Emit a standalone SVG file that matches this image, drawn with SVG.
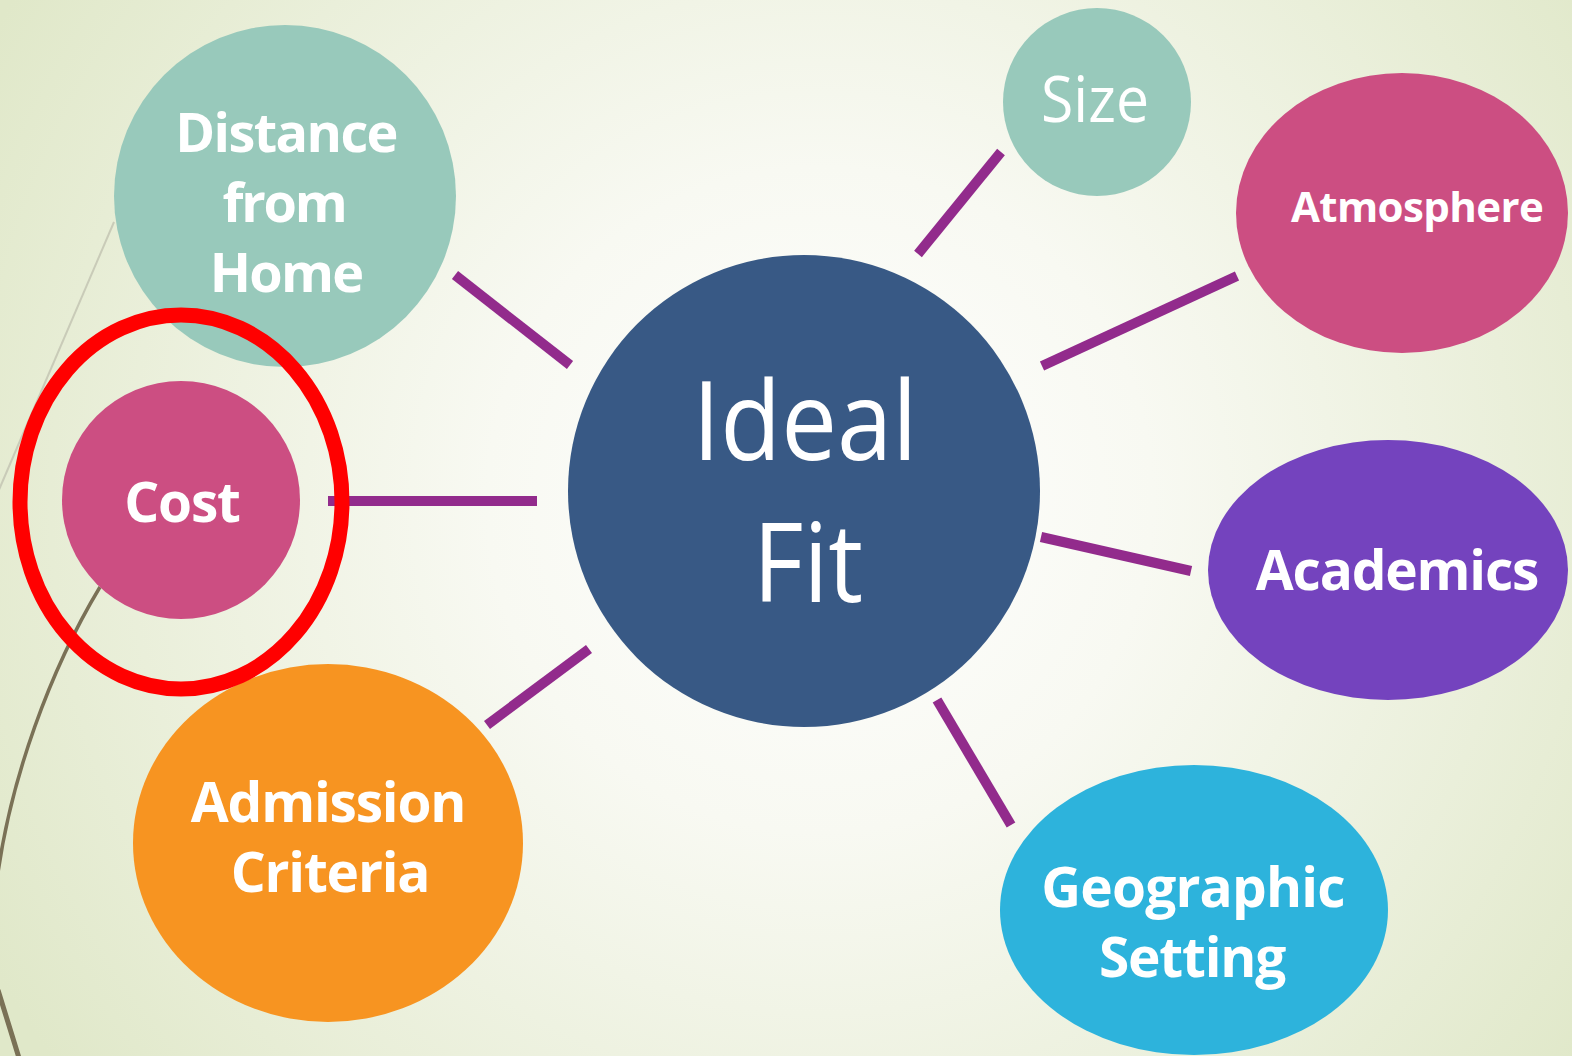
<svg xmlns="http://www.w3.org/2000/svg" width="1572" height="1056" viewBox="0 0 1572 1056">
<defs>
<radialGradient id="bg" cx="820" cy="500" r="950" gradientUnits="userSpaceOnUse">
<stop offset="0" stop-color="#ffffff"/>
<stop offset="0.35" stop-color="#f8f9f2"/>
<stop offset="1" stop-color="#e0e8c9"/>
</radialGradient>
<style>
.lbl{font-family:"Open Sans","Noto Sans","Liberation Sans",sans-serif;font-weight:700;fill:#ffffff;text-anchor:middle;letter-spacing:-1.2px;}
.thin{font-family:"Open Sans","Noto Sans","Liberation Sans",sans-serif;font-weight:400;fill:#ffffff;text-anchor:middle;}
.conn line{stroke:#922b8c;stroke-width:10;stroke-linecap:butt;}
</style>
</defs>
<rect x="0" y="0" width="1572" height="1056" fill="url(#bg)"/>
<g id="deco" fill="none">
<line x1="114" y1="222" x2="-2" y2="492" stroke="#c9cbb8" stroke-width="2"/>
<path d="M100,587 C50,670 10,780 -3,880" stroke="#7a7156" stroke-width="3.5"/>
<path d="M-2,990 C4,1010 12,1035 19,1058" stroke="#7a7156" stroke-width="5"/>
</g>
<g id="connectors" class="conn">
<line x1="455" y1="275" x2="570" y2="365"/>
<line x1="328" y1="501" x2="537" y2="501"/>
<line x1="487" y1="725" x2="589" y2="649"/>
<line x1="1001" y1="152" x2="918" y2="254"/>
<line x1="1237" y1="276" x2="1042" y2="366"/>
<line x1="1041" y1="537" x2="1191" y2="571"/>
<line x1="937" y1="700" x2="1011" y2="825"/>
</g>
<g id="node-distance">
<circle cx="285" cy="196" r="171" fill="#98c9bb"/>
<text class="lbl" x="286" y="152" font-size="54" style="letter-spacing:-1.6px">Distance</text>
<text class="lbl" x="284" y="222" font-size="54" style="letter-spacing:-2.2px">from</text>
<text class="lbl" x="286" y="292" font-size="54" style="letter-spacing:-1.8px">Home</text>
</g>
<g id="node-cost">
<circle cx="181" cy="500" r="119" fill="#cc4e82"/>
<text class="lbl" x="182" y="522" font-size="55">Cost</text>
</g>
<g id="node-admission">
<ellipse cx="328" cy="843" rx="195" ry="179" fill="#f79421"/>
<text class="lbl" x="328" y="822" font-size="55">Admission</text>
<text class="lbl" x="330" y="892" font-size="55">Criteria</text>
</g>
<g id="node-ideal">
<circle cx="804" cy="491" r="236" fill="#385985"/>
<text class="thin" x="805" y="460" font-size="110" textLength="225" lengthAdjust="spacingAndGlyphs">Ideal</text>
<text class="thin" x="808" y="602" font-size="110" textLength="110" lengthAdjust="spacingAndGlyphs">Fit</text>
</g>
<g id="node-size">
<circle cx="1097" cy="102" r="94" fill="#98c9bb"/>
<text class="thin" x="1095" y="122" font-size="64" textLength="108" lengthAdjust="spacingAndGlyphs">Size</text>
</g>
<g id="node-atmosphere">
<ellipse cx="1402" cy="213" rx="166" ry="140" fill="#cc4e82"/>
<text class="lbl" x="1417" y="222" font-size="42" style="letter-spacing:-0.6px">Atmosphere</text>
</g>
<g id="node-academics">
<ellipse cx="1388" cy="570" rx="180" ry="130" fill="#7443be"/>
<text class="lbl" x="1397" y="590" font-size="55">Academics</text>
</g>
<g id="node-geographic">
<ellipse cx="1194" cy="910" rx="194" ry="145" fill="#2db3dc"/>
<text class="lbl" x="1193" y="907" font-size="55" style="letter-spacing:-0.8px">Geographic</text>
<text class="lbl" x="1192" y="977" font-size="55">Setting</text>
</g>
<g id="highlight">
<ellipse cx="181" cy="502" rx="161" ry="187" fill="none" stroke="#ff0000" stroke-width="15"/>
</g>
</svg>
